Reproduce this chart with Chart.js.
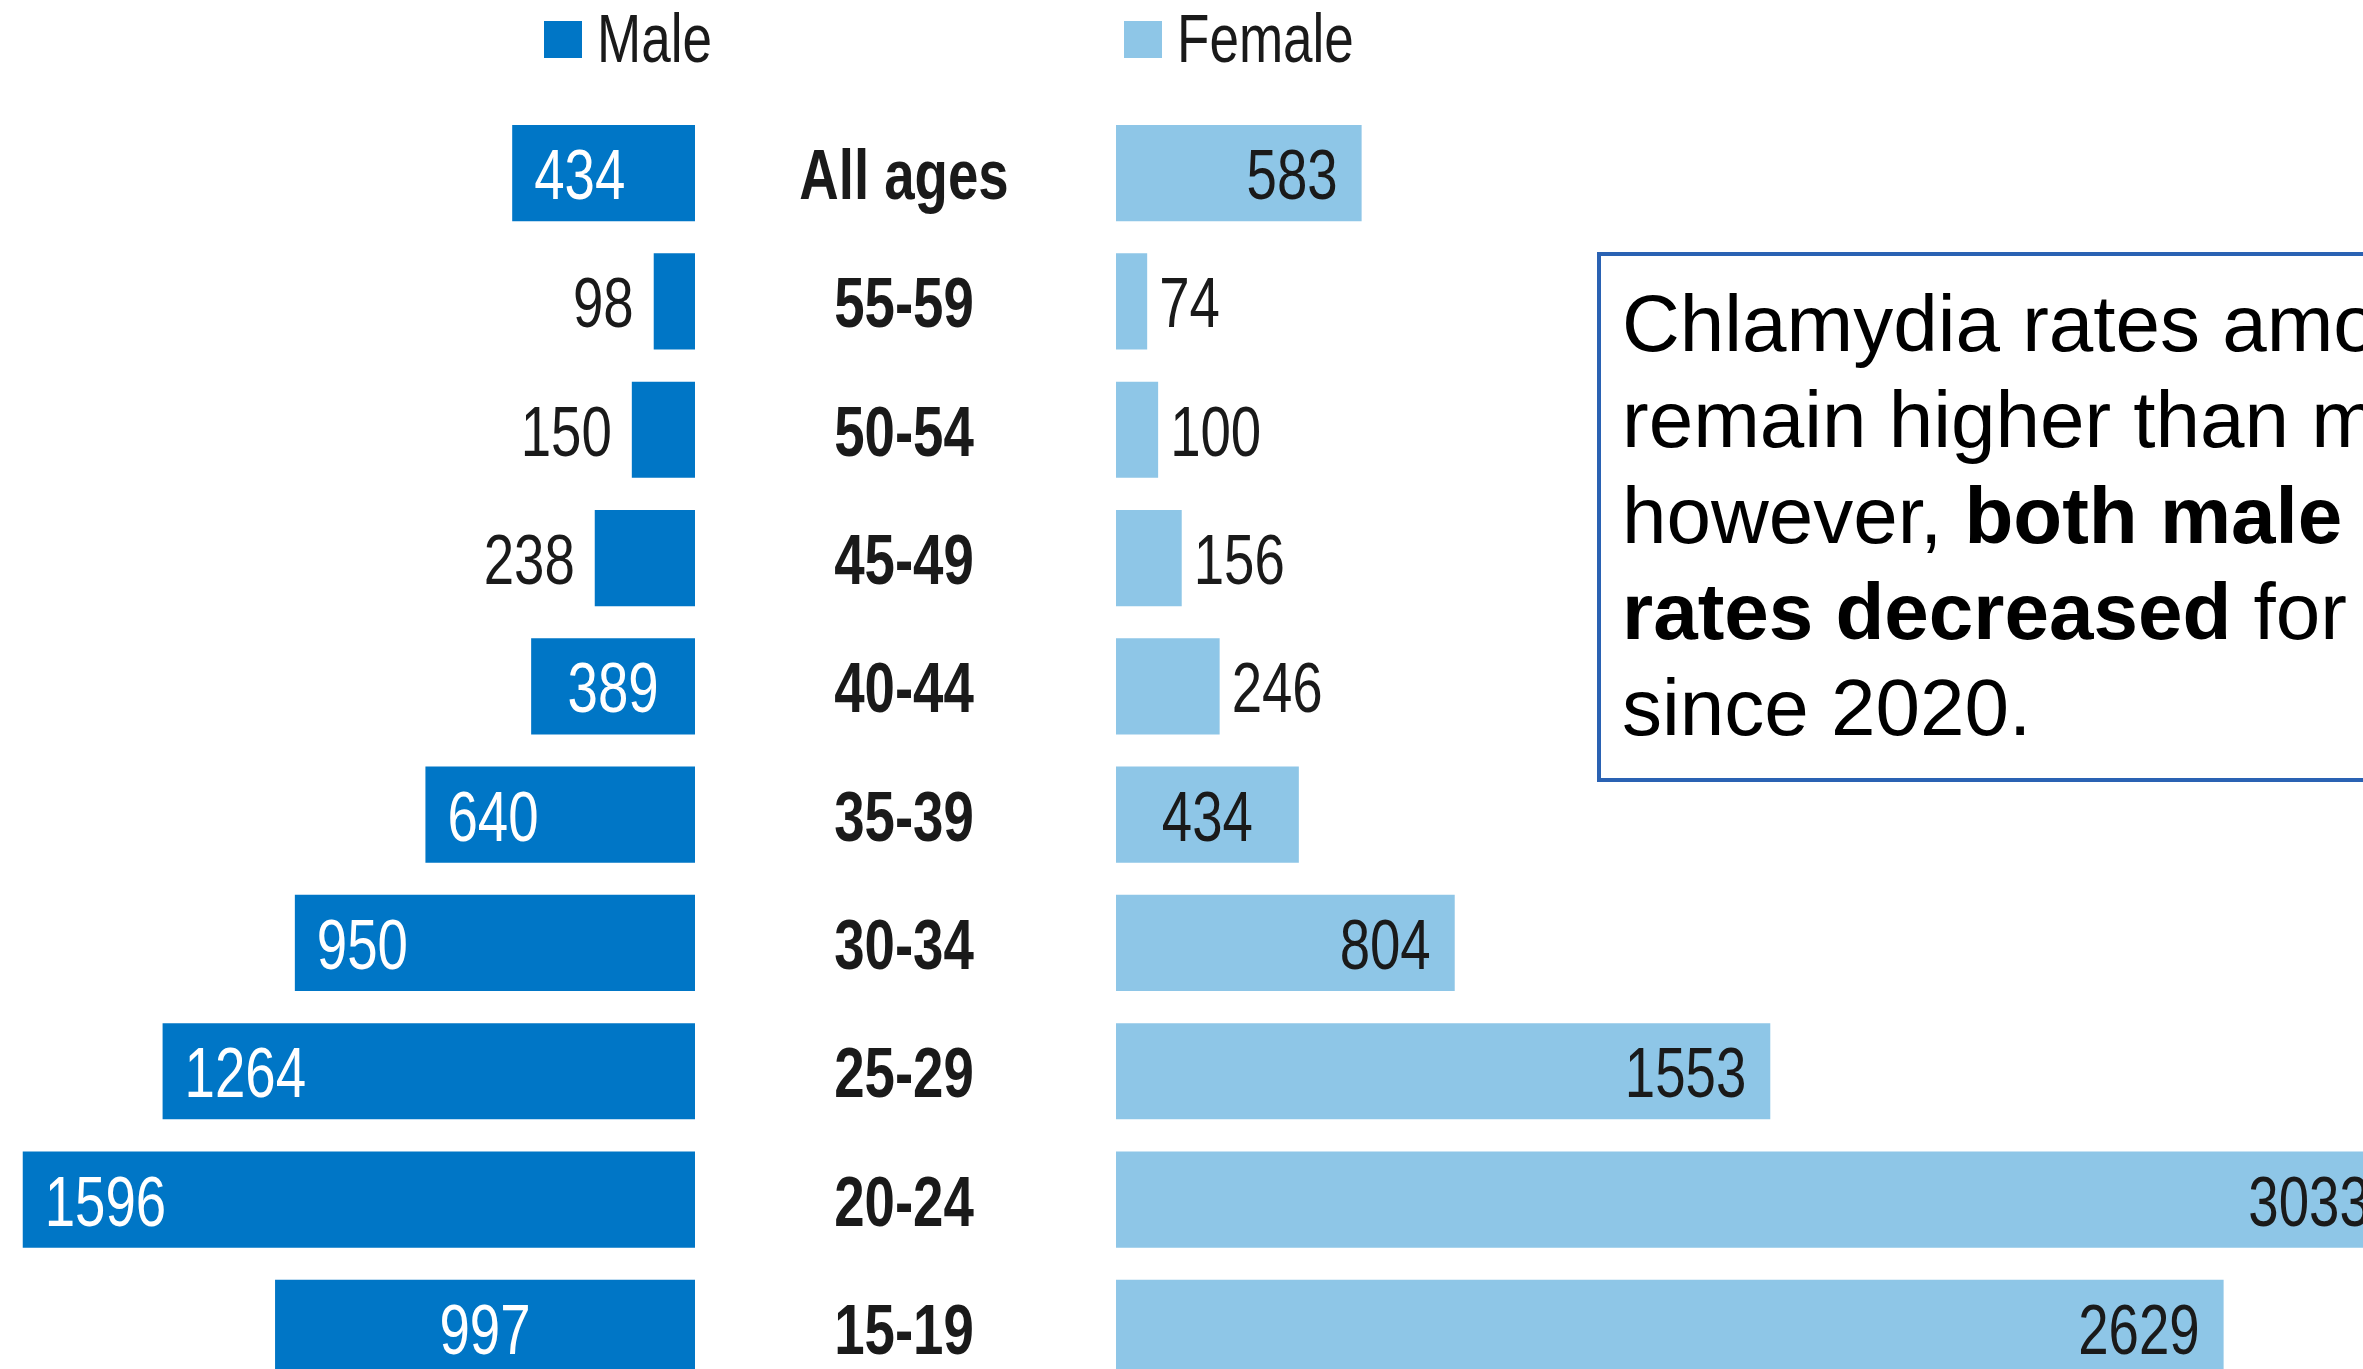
<!DOCTYPE html>
<html>
<head>
<meta charset="utf-8">
<title>Chlamydia rates by age and sex</title>
<script src="https://cdn.jsdelivr.net/npm/chart.js@4.4.0/dist/chart.umd.min.js"></script>
<style>
  html, body { margin: 0; padding: 0; background: #fff; }
  body { position: relative; width: 2363px; height: 1369px; overflow: hidden; }
  #maleBox { position: absolute; left: 0; top: 0; }
  #femaleBox { position: absolute; left: 1116px; top: 0; }
  .note {
    position: absolute; left: 1597px; top: 252px;
    width: 1000px; height: 530px; box-sizing: border-box;
    border: 4px solid #2a62b3;
    padding: 20px 0 0 21px;
    font-family: 'Liberation Sans', Arial, sans-serif;
    font-size: 80px; line-height: 96px; color: #000;
    white-space: nowrap; background: #fff;
  }
</style>
</head>
<body>
<div id="maleBox"><canvas id="maleChart" width="1116" height="1392"></canvas></div>
<div id="femaleBox"><canvas id="femaleChart" width="1400" height="1392"></canvas></div>
<div class="note">
  Chlamydia rates among females<br>
  remain higher than males;<br>
  however, <b>both male and female</b><br>
  <b>rates decreased</b> for all ages<br>
  since 2020.
</div>

<script>
// дані з картинки (на 100 000)
const ageGroups = ['All ages', '55-59', '50-54', '45-49', '40-44', '35-39', '30-34', '25-29', '20-24', '15-19'];
const maleRates = [434, 98, 150, 238, 389, 640, 950, 1264, 1596, 997];
const femaleRates = [583, 74, 100, 156, 246, 434, 804, 1553, 3033, 2629];

const MALE_COLOR = '#0076c6';
const FEMALE_COLOR = '#8ec6e7';
const FONT = "'Liberation Sans', Arial, sans-serif";
const SQUEEZE = 0.78;   // імітація Arial Narrow

/* ---- вузький текст: Arial стиснутий по горизонталі ---- */
function narrowText(ctx, text, x, y, align) {
    ctx.save();
    ctx.translate(x, y);
    ctx.scale(SQUEEZE, 1);
    ctx.textAlign = align;
    ctx.textBaseline = 'alphabetic';
    ctx.fillText(text, 0, 0);
    ctx.restore();
}

/* ---- підписи значень біля / всередині смуг ---- */
function valueLabels(place, inColor, outColor, gap, inset) {
    return {
        id: 'valueLabels',
        afterDatasetsDraw(chart) {
            const ctx = chart.ctx;
            const meta = chart.getDatasetMeta(0);
            const values = chart.data.datasets[0].data;
            ctx.save();
            ctx.font = `70px ${FONT}`;
            meta.data.forEach((bar, i) => {
                const dir = bar.x >= bar.base ? 1 : -1;   // куди росте смуга
                const y = bar.y + 26;
                if (place[i] === 'out') {
                    ctx.fillStyle = outColor;
                    narrowText(ctx, String(values[i]), bar.x + dir * gap, y, dir > 0 ? 'left' : 'right');
                } else if (place[i] === 'center') {
                    ctx.fillStyle = inColor;
                    narrowText(ctx, String(values[i]), (bar.x + bar.base) / 2, y, 'center');
                } else {
                    ctx.fillStyle = inColor;
                    narrowText(ctx, String(values[i]), bar.x - dir * inset, y, dir > 0 ? 'right' : 'left');
                }
            });
            ctx.restore();
        }
    };
}

/* ---- назви вікових груп між двома половинами ---- */
const groupLabels = {
    id: 'groupLabels',
    afterDraw(chart) {
        const ctx = chart.ctx;
        const yScale = chart.scales.y;
        const cx = chart.chartArea.right + 209;
        ctx.save();
        ctx.font = `bold 70px ${FONT}`;
        ctx.fillStyle = '#1a1a1a';
        chart.data.labels.forEach((lab, i) => {
            narrowText(ctx, lab, cx, yScale.getPixelForValue(i) + 26, 'center');
        });
        ctx.restore();
    }
};

/* ---- легенда: квадратик + назва ---- */
function legendMark(left) {
    return {
        id: 'legendMark',
        afterDraw(chart) {
            const ds = chart.data.datasets[0];
            const ctx = chart.ctx;
            ctx.save();
            ctx.fillStyle = ds.backgroundColor;
            ctx.fillRect(left, 21, 38, 37);
            ctx.fillStyle = '#1a1a1a';
            ctx.font = `68px ${FONT}`;
            narrowText(ctx, ds.label, left + 53, 62, 'left');
            ctx.restore();
        }
    };
}

function baseOptions(rightPad) {
    return {
        indexAxis: 'y',
        responsive: false,
        animation: false,
        layout: { padding: { top: 109, bottom: 0, left: 0, right: rightPad } },
        plugins: { legend: { display: false }, tooltip: { enabled: false } }
    };
}

/* ---- чоловіки (ліворуч, вісь розвернута) ---- */
const maleOpts = baseOptions(421);
maleOpts.scales = {
    x: { display: false, reverse: true, min: 0, max: 1650 },
    y: { display: false }
};

new Chart(document.getElementById('maleChart'), {
    type: 'bar',
    data: {
        labels: ageGroups,
        datasets: [{
            label: 'Male', data: maleRates, backgroundColor: MALE_COLOR,
            categoryPercentage: 1, barPercentage: 0.75
        }]
    },
    options: maleOpts,
    plugins: [
        valueLabels(['end', 'out', 'out', 'out', 'center', 'end', 'end', 'end', 'end', 'center'], '#ffffff', '#1a1a1a', 20, 22),
        groupLabels,
        legendMark(544)
    ]
});

/* ---- жінки (праворуч) ---- */
const femaleOpts = baseOptions(0);
femaleOpts.scales = {
    x: { display: false, min: 0, max: 3323 },
    y: { display: false }
};

new Chart(document.getElementById('femaleChart'), {
    type: 'bar',
    data: {
        labels: ageGroups,
        datasets: [{
            label: 'Female', data: femaleRates, backgroundColor: FEMALE_COLOR,
            categoryPercentage: 1, barPercentage: 0.75
        }]
    },
    options: femaleOpts,
    plugins: [
        valueLabels(['end', 'out', 'out', 'out', 'out', 'center', 'end', 'end', 'end', 'end'], '#1a1a1a', '#1a1a1a', 12, 24),
        legendMark(8)
    ]
});
</script>
</body>
</html>
